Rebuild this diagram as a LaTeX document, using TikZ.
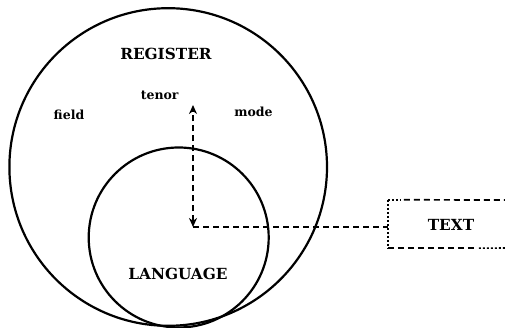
\documentclass[tikz,border=0pt]{standalone}
\usepackage{fontspec}
\setmainfont{DejaVu Serif}
\usetikzlibrary{arrows.meta}
\tikzset{
  ring/.style={circle, draw, line width=2.2pt, inner sep=0pt},
  capslabel/.style={font=\bfseries\fontsize{15.3}{18}\selectfont, inner sep=0pt},
  smalllabel/.style={font=\bfseries\fontsize{12.5}{14}\selectfont, inner sep=0pt},
  dashline/.style={line width=1.7pt, dash pattern=on 6pt off 4pt},
  dotline/.style={line width=1.6pt, dash pattern=on 2pt off 2pt},
  tips/.style={{Stealth[length=9pt,width=8pt]}-{Stealth[length=9pt,width=8pt]}}
}
\begin{document}
\begin{tikzpicture}[x=1pt, y=-1pt]
  \useasboundingbox (0,0) rectangle (505,328);

  % outer and inner circles
  \node[ring, minimum size=317.6pt] (register) at (168.2,167) {};
  \node[ring, minimum size=180pt] (language) at (178.7,237.5) {};

  % labels
  \node[capslabel] (registerlbl) at (166,54) {REGISTER};
  \node[smalllabel, anchor=base] (tenor) at (159.7,100) {tenor};
  \node[smalllabel, anchor=base] (field) at (69,120) {field};
  \node[smalllabel, anchor=base] (mode) at (253.5,117) {mode};
  \node[capslabel, anchor=base] (langlbl) at (178,279) {LANGUAGE};

  % text box, open to the right
  \node[capslabel, minimum width=126pt, minimum height=48pt] (textbox) at (451,224) {};
  \node[capslabel, anchor=base] (textlbl) at (451,231) {TEXT};
  \draw[dotline] (textbox.north west) -- (textbox.south west);
  \draw[dotline] (textbox.north west) -- ++(13,0);
  \draw[dashline] (textbox.north west) ++(16,0) -- (505,200);
  \draw[dashline] (textbox.south west) -- ++(89,0);
  \draw[dotline] (textbox.south west) ++(91,0) -- (505,248);

  % connectors
  \coordinate (hub) at (193,227);
  \coordinate (up) at (193,105);
  \draw[dashline, tips] (hub) -- (up);
  \draw[dashline] (hub) -- (textbox.west |- hub);
\end{tikzpicture}
\end{document}
